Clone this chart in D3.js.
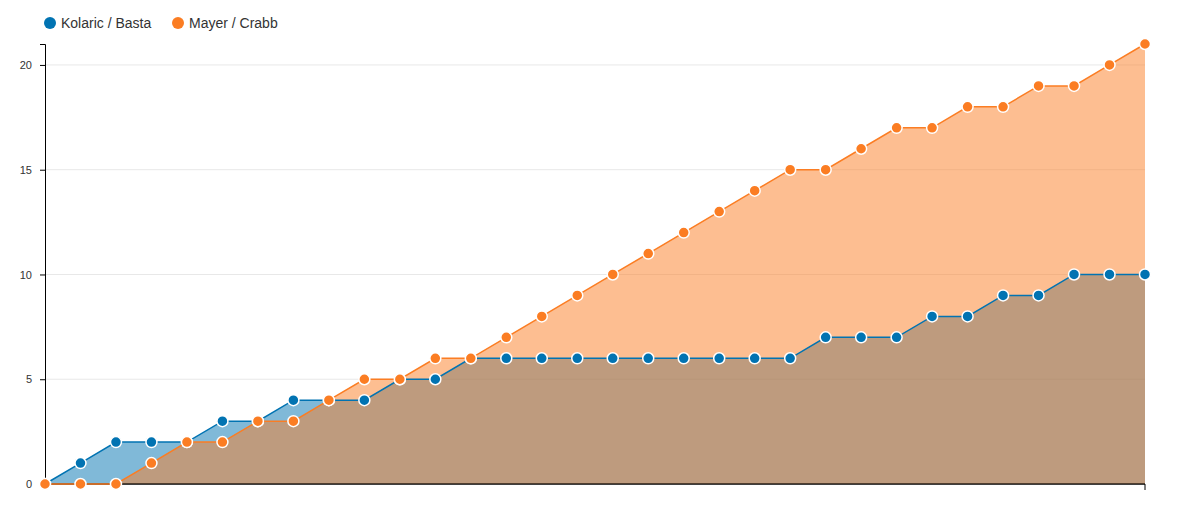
<!DOCTYPE html>
<html>
<head>
<meta charset="utf-8">
<script src="https://cdn.jsdelivr.net/npm/d3@7"></script>
<style>
    body { margin: 0; background: #fff; font-family: "Liberation Sans", Arial, sans-serif; }
    .grid line { stroke: #e8e8e8; }
    .axis text { font-size: 11px; fill: #333; font-family: "Liberation Sans", Arial, sans-serif; }
    .legend text { font-size: 14px; fill: #333; }
</style>
</head>
<body>
<svg id="chart" width="1181" height="512"></svg>
<script>
// one entry per set played
const games        = d3.range(32);
const seriesNames  = ["Kolaric / Basta", "Mayer / Crabb"];
const seriesColors = ["#0173b2", "#fb7d23"];
const kolaricBasta = [0, 1, 2, 2, 2, 3, 3, 4, 4, 4, 5, 5, 6, 6, 6, 6, 6, 6, 6, 6, 6, 6, 7, 7, 7, 8, 8, 9, 9, 10, 10, 10];
const mayerCrabb   = [0, 0, 0, 1, 2, 2, 3, 3, 4, 5, 5, 6, 6, 7, 8, 9, 10, 11, 12, 13, 14, 15, 15, 16, 17, 17, 18, 18, 19, 19, 20, 21];
const yTicks       = [0, 5, 10, 15, 20];

const svg = d3.select("#chart");

const margin = { top: 44, right: 36, bottom: 28, left: 45 };
const width  = +svg.attr("width")  - margin.left - margin.right;
const height = +svg.attr("height") - margin.top  - margin.bottom;

const chart = svg.append("g")
    .attr("transform", `translate(${margin.left},${margin.top})`);

const x = d3.scaleLinear()
    .domain([0, games.length - 1])
    .range([0, width]);

const y = d3.scaleLinear()
    .domain([0, d3.max(mayerCrabb)])
    .range([height, 0]);

// horizontal grid lines
chart.append("g")
    .attr("class", "grid")
    .selectAll("line")
    .data(yTicks.filter(t => t > 0))
    .enter().append("line")
        .attr("x1", 0)
        .attr("x2", width)
        .attr("y1", d => y(d))
        .attr("y2", d => y(d));

// axes go under the marks
const xAxis = chart.append("g")
    .attr("class", "axis")
    .attr("transform", `translate(0,${height})`)
    .call(d3.axisBottom(x).tickValues([]).tickSizeOuter(6));

// only the right end of the x domain has an outer tick
xAxis.select(".domain").attr("d", `M0,0H${width}V6`);

chart.append("g")
    .attr("class", "axis")
    .call(d3.axisLeft(y).tickValues(yTicks).tickSize(5).tickPadding(8));

const series = [kolaricBasta, mayerCrabb].map((values, i) => ({
    name:   seriesNames[i],
    color:  seriesColors[i],
    values: values.map((v, j) => [games[j], v])
}));

const area = d3.area()
    .x(d => x(d[0]))
    .y0(height)
    .y1(d => y(d[1]));

const line = d3.line()
    .x(d => x(d[0]))
    .y(d => y(d[1]));

series.forEach(s =>
{
    chart.append("path")
        .datum(s.values)
        .attr("fill", s.color)
        .attr("fill-opacity", 0.5)
        .attr("d", area);
});

// redraw the baseline over the areas
chart.append("line")
    .attr("x1", 0)
    .attr("x2", width)
    .attr("y1", height)
    .attr("y2", height)
    .attr("stroke", "#000");

series.forEach(s =>
{
    chart.append("path")
        .datum(s.values)
        .attr("fill", "none")
        .attr("stroke", s.color)
        .attr("stroke-width", 1.5)
        .attr("d", line);

    chart.append("g")
        .selectAll("circle")
        .data(s.values)
        .enter().append("circle")
            .attr("cx", d => x(d[0]))
            .attr("cy", d => y(d[1]))
            .attr("r", 5.5)
            .attr("fill", s.color)
            .attr("stroke", "#fff")
            .attr("stroke-width", 1.5);
});

// legend
const legend = svg.append("g")
    .attr("class", "legend")
    .attr("transform", "translate(50,23)");

const legendX = [0, 128];

const items = legend.selectAll("g")
    .data(series)
    .enter().append("g")
        .attr("transform", (d, i) => `translate(${legendX[i]},0)`);

items.append("circle")
    .attr("r", 6)
    .attr("fill", d => d.color);

items.append("text")
    .attr("x", 11)
    .attr("dy", "0.35em")
    .text(d => d.name);
</script>
</body>
</html>
